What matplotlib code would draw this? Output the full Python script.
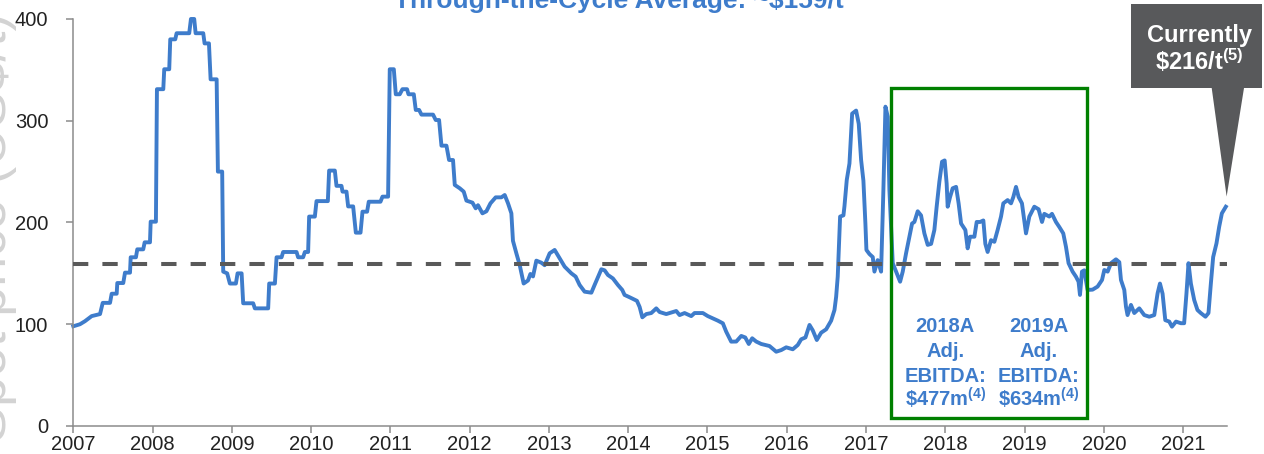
import numpy as np
import matplotlib.pyplot as plt
from matplotlib.patches import Rectangle, Polygon

plt.rcParams['font.family'] = ['Liberation Sans', 'DejaVu Sans']
plt.rcParams['mathtext.fontset'] = 'custom'
plt.rcParams['mathtext.rm'] = 'Liberation Sans:bold'
plt.rcParams['mathtext.it'] = 'Liberation Sans:bold'
plt.rcParams['mathtext.bf'] = 'Liberation Sans:bold'

# coking coal price (US$/t)
years_07_10 = [2007.000, 2007.084, 2007.147, 2007.232, 2007.337, 2007.371, 2007.463, 2007.484, 2007.547, 2007.555,
               2007.630, 2007.652, 2007.715, 2007.724, 2007.790, 2007.807, 2007.882, 2007.900, 2007.967, 2007.976,
               2008.042, 2008.055, 2008.135, 2008.147, 2008.210, 2008.223, 2008.286, 2008.303, 2008.462, 2008.484,
               2008.525, 2008.543, 2008.639, 2008.656, 2008.711, 2008.732, 2008.808, 2008.824, 2008.878, 2008.891,
               2008.941, 2008.975, 2009.051, 2009.072, 2009.123, 2009.143, 2009.269, 2009.290, 2009.458, 2009.471,
               2009.543, 2009.564, 2009.627, 2009.647, 2009.816, 2009.836, 2009.899, 2009.921, 2009.962, 2009.975]
price_07_10 = [98, 100, 103, 108, 110, 121, 121, 130, 130, 140.5,
               140.5, 150.7, 150.7, 165.8, 165.8, 173.6, 173.6, 180.5, 180.5, 200.8,
               200.8, 331, 331, 350.6, 350.6, 380, 380, 386, 386, 400,
               400, 386, 386, 376, 376, 340.7, 340.7, 250, 250, 151.7,
               150, 140, 140, 150, 150, 120.6, 120.6, 115.6, 115.6, 140,
               140, 165.8, 165.8, 171, 171, 165.8, 165.8, 171, 171, 205.8]

years_10_12 = [2010.047, 2010.068, 2010.211, 2010.227, 2010.299, 2010.320, 2010.383, 2010.396, 2010.446, 2010.467,
               2010.530, 2010.564, 2010.623, 2010.648, 2010.706, 2010.727, 2010.875, 2010.900, 2010.971, 2010.992,
               2011.043, 2011.068, 2011.118, 2011.152, 2011.210, 2011.228, 2011.295, 2011.320, 2011.362, 2011.392,
               2011.538, 2011.572, 2011.614, 2011.644, 2011.707, 2011.740, 2011.790, 2011.812, 2011.875, 2011.925,
               2011.959, 2012.035, 2012.076, 2012.105, 2012.161, 2012.211, 2012.262, 2012.328, 2012.400, 2012.442,
               2012.483, 2012.526]
price_10_12 = [205.8, 221, 221, 251, 251, 236, 236, 230.3, 230.3, 215.8,
               215.8, 190, 190, 210.6, 210.6, 220.4, 220.4, 225.4, 225.4, 350.6,
               350.6, 326, 326, 331, 331, 326, 326, 310.6, 310.6, 306,
               306, 300.7, 300.7, 275.5, 275.5, 261.4, 261.4, 236.9, 233.6, 230.3,
               221.5, 219.5, 213.9, 217, 209, 211, 218.8, 224.7, 224.7, 227,
               219, 209]

years_12_16 = [2012.546, 2012.589, 2012.631, 2012.681, 2012.736, 2012.766, 2012.799, 2012.841, 2012.904, 2012.946,
               2013.009, 2013.072, 2013.135, 2013.198, 2013.283, 2013.337, 2013.387, 2013.450, 2013.535, 2013.576,
               2013.661, 2013.702, 2013.744, 2013.807, 2013.870, 2013.925, 2013.954, 2014.018, 2014.110, 2014.144,
               2014.178, 2014.228, 2014.291, 2014.354, 2014.396, 2014.480, 2014.606, 2014.648, 2014.711, 2014.795,
               2014.837, 2014.942, 2015.004, 2015.067, 2015.131, 2015.194, 2015.236, 2015.299, 2015.363, 2015.426,
               2015.476, 2015.521, 2015.564, 2015.614, 2015.678, 2015.782, 2015.867, 2015.930, 2015.993, 2016.076,
               2016.139, 2016.182, 2016.236, 2016.287, 2016.328, 2016.379, 2016.434, 2016.497, 2016.560, 2016.602]
price_12_16 = [182, 169.7, 158.2, 140, 143, 149.4, 147, 162.5, 160.5, 158,
               169.7, 173, 164.8, 156.6, 150, 146.8, 138.6, 132, 131, 138.6,
               154, 153, 148.4, 145, 138.6, 133.7, 128.8, 126.5, 123, 117,
               106.8, 110, 111, 115.6, 112, 110, 113, 109, 111, 108,
               111, 111, 108, 105.8, 103.5, 100.9, 92.7, 82.9, 83, 88.5,
               87, 80.6, 86.2, 83, 80.6, 78.6, 73, 74.6, 77.3, 75.4,
               79.6, 85.2, 87, 99.3, 94, 84.5, 91.7, 95, 103.5, 114]

years_16_19 = [2016.623, 2016.643, 2016.656, 2016.673, 2016.715, 2016.728, 2016.757, 2016.791, 2016.825, 2016.875,
               2016.908, 2016.938, 2016.967, 2016.992, 2017.005, 2017.043, 2017.085, 2017.106, 2017.147, 2017.190,
               2017.219, 2017.245, 2017.274, 2017.295, 2017.337, 2017.380, 2017.430, 2017.463, 2017.505, 2017.547,
               2017.581, 2017.610, 2017.652, 2017.694, 2017.736, 2017.778, 2017.821, 2017.862, 2017.891, 2017.925,
               2017.959, 2017.992, 2018.017, 2018.030, 2018.060, 2018.093, 2018.136, 2018.168, 2018.199, 2018.253,
               2018.282, 2018.312, 2018.367, 2018.396, 2018.439, 2018.480, 2018.505, 2018.534, 2018.577, 2018.619,
               2018.660, 2018.703, 2018.732, 2018.786, 2018.829, 2018.858, 2018.892, 2018.925, 2018.967, 2019.018,
               2019.060, 2019.123, 2019.177, 2019.220, 2019.249, 2019.312, 2019.346, 2019.396, 2019.438, 2019.488,
               2019.522, 2019.555, 2019.606, 2019.648, 2019.681, 2019.699, 2019.724, 2019.753]
price_16_19 = [127, 146.8, 173, 205.8, 207, 216, 241.8, 258, 307, 310,
               297, 261.4, 241, 199, 173, 169, 166, 151.7, 163, 151.7,
               232, 313.8, 304, 232, 160, 151.7, 141.8, 151.7, 169.7, 186,
               199, 200.5, 211, 207, 189.3, 178, 179, 192.6, 215.5, 240,
               259.7, 261, 238.3, 215.5, 225, 233.6, 235, 218.8, 199, 192.6,
               174.6, 186, 186, 200.5, 200.5, 202, 179, 171, 182.6, 181,
               192.6, 205.8, 218.8, 222, 218.8, 225, 235, 225, 218.8, 189.3,
               205.8, 215.5, 213, 200.5, 208.5, 205.8, 208.5, 200.5, 195.6, 189.3,
               176.2, 160, 151.7, 146.8, 141.8, 128.8, 151.7, 153]

years_19_21 = [2019.795, 2019.858, 2019.921, 2019.977, 2020.006, 2020.048, 2020.090, 2020.153, 2020.195, 2020.216,
               2020.258, 2020.279, 2020.299, 2020.342, 2020.384, 2020.447, 2020.510, 2020.573, 2020.636, 2020.678,
               2020.708, 2020.741, 2020.775, 2020.825, 2020.859, 2020.910, 2020.972, 2021.013, 2021.042, 2021.068,
               2021.098, 2021.140, 2021.181, 2021.223, 2021.282, 2021.320, 2021.350, 2021.379, 2021.421, 2021.455,
               2021.489, 2021.539]
price_19_21 = [133.7, 134, 137, 143.5, 153.3, 151.7, 160, 163.8, 161, 143.5,
               133.7, 117.3, 109, 119, 111, 115.6, 109, 107.4, 109, 130.4,
               140, 130, 104, 102.6, 97.6, 102.6, 101, 101, 130, 160,
               140, 123.8, 114, 111, 107.4, 111, 140, 166, 179.5, 195.8,
               209, 215.5]

avg_price = 159
title = 'Through-the-Cycle Average: ~$159/t'
box_years = [2017.32, 2019.79]
box_prices = [7.5, 332]
ebitda_x = [2018.0, 2019.18]
ebitda_lines = [['2018A', 'Adj.', 'EBITDA:', '\\$477m$^{(4)}$'],
                ['2019A', 'Adj.', 'EBITDA:', '\\$634m$^{(4)}$']]
callout_lines = ['Currently', '\\$216/t$^{(5)}$']
x_ticks = list(range(2007, 2022))
y_ticks = [0, 100, 200, 300, 400]

blue = '#3E7CCB'
grey = '#8C8C8C'

years = np.concatenate([years_07_10, years_10_12, years_12_16, years_16_19, years_19_21])
prices = np.concatenate([price_07_10, price_10_12, price_12_16, price_16_19, price_19_21])

fig = plt.figure(figsize=(12.64, 4.54), dpi=100)
ax = fig.add_axes([0.058, 0.0617, 0.9125, 0.8965])

ax.plot(years, prices, color=blue, lw=2.8, solid_joinstyle='round', clip_on=False, zorder=2)
ax.axhline(avg_price, color='#595959', lw=2.9, dashes=(3.8, 3.5), zorder=3)

ax.add_patch(Rectangle((box_years[0], box_prices[0]), box_years[1] - box_years[0],
                       box_prices[1] - box_prices[0], fill=False, ec='#008000', lw=2.4,
                       clip_on=False, zorder=4))
for x, lines in zip(ebitda_x, ebitda_lines):
    for i, s in enumerate(lines):
        ax.annotate(s, (x, 92.7), xytext=(0, -18 * i), textcoords='offset points',
                    ha='center', va='baseline', fontsize=14.5, fontweight='bold', color=blue)

ax.set_xlim(2007, 2021.55)
ax.set_ylim(0, 400)
ax.set_xticks(x_ticks)
ax.set_yticks(y_ticks)
for side in ['top', 'right']:
    ax.spines[side].set_visible(False)
for side in ['left', 'bottom']:
    ax.spines[side].set_color(grey)
    ax.spines[side].set_linewidth(1.1)
ax.tick_params(axis='x', length=5, width=1.1, color=grey, pad=1.5, labelsize=14.5, labelcolor='#222222')
ax.tick_params(axis='y', length=5, width=1.1, color=grey, pad=13, labelsize=14.5, labelcolor='#222222')

fig.text(0.4897, 1 - 8.3 / 454, title, ha='center', va='baseline', fontsize=19,
         fontweight='bold', color=blue)

# faded axis caption cut off at the left edge
fig.text(17 / 1264, 0.5, 'Spot price (US$/t)', rotation=90, ha='right', va='center',
         fontsize=39, color='#D3D3D3')

# callout box pointing at the latest price
callout_color = '#58595B'
fig.add_artist(Rectangle((1131 / 1264, 1 - 88 / 454), 131 / 1264, 84 / 454,
                         transform=fig.transFigure, fc=callout_color, ec='none'))
tip = fig.transFigure.inverted().transform(ax.transData.transform((years[-1] + 0.01, prices[-1] + 10)))
fig.add_artist(Polygon([(1211.7 / 1264, 1 - 88 / 454), (1244 / 1264, 1 - 88 / 454), tuple(tip)],
                       closed=True, transform=fig.transFigure, fc=callout_color, ec='none'))
for i, s in enumerate(callout_lines):
    fig.text(1199 / 1264, 1 - (41.7 + 28.3 * i) / 454, s, ha='center', va='baseline',
             fontsize=17, fontweight='bold', color='white')

fig.savefig('out.png', dpi=100)
